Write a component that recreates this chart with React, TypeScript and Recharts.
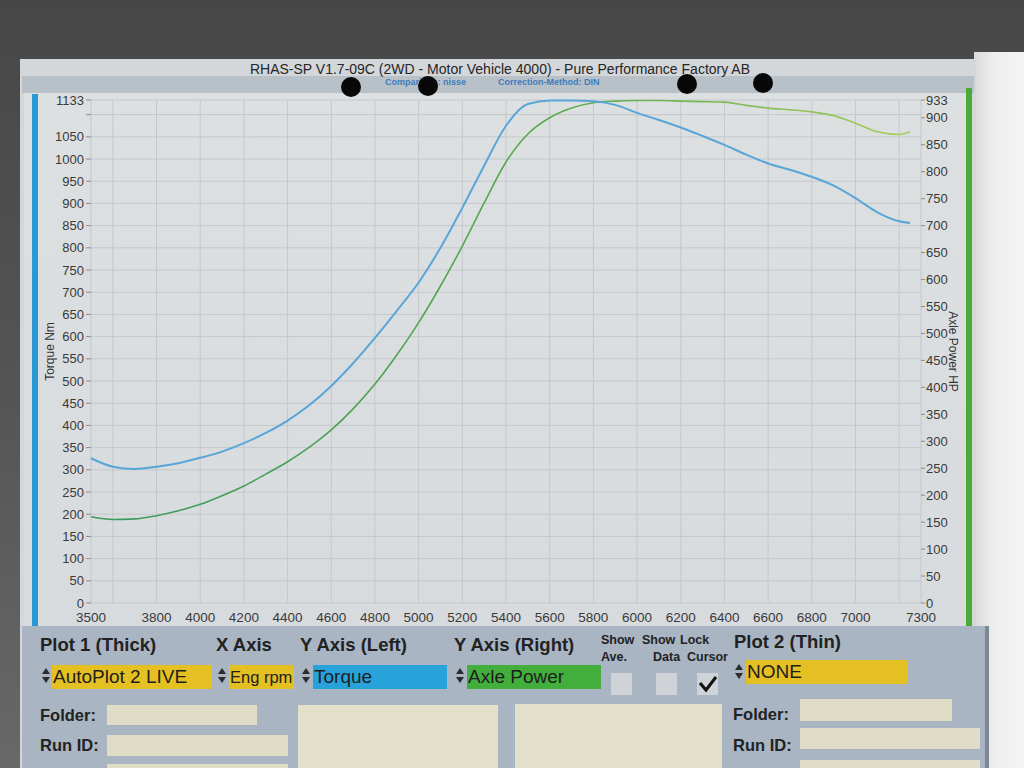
import React from 'react';
import { LineChart, Line, XAxis, YAxis, CartesianGrid } from 'recharts';

// ---- data ----
const rpm = [3500, 3600, 3700, 3800, 3900, 4000, 4100, 4200, 4300, 4400, 4500, 4600, 4700, 4800, 4900, 5000, 5100, 5200, 5300, 5400, 5500, 5600, 5700, 5800, 5900, 6000, 6100, 6200, 6300, 6400, 6500, 6600, 6700, 6800, 6900, 7000, 7100, 7200, 7250];
const torqueNm = [326, 307, 302, 307, 315, 327, 341, 360, 383, 411, 446, 489, 540, 597, 658, 722, 800, 890, 985, 1075, 1124, 1132, 1132, 1130, 1122, 1104, 1088, 1071, 1052, 1032, 1010, 990, 976, 960, 940, 912, 880, 860, 856];
const axlePowerHp = [160, 155, 156, 162, 171, 183, 199, 217, 239, 262, 289, 321, 360, 406, 460, 520, 588, 662, 742, 818, 870, 900, 918, 928, 931, 932, 932, 931, 930, 929, 923, 918, 915, 911, 904, 890, 874, 869, 874];

const xTicks = [3500, 3600, 3800, 4000, 4200, 4400, 4600, 4800, 5000, 5200, 5400, 5600, 5800, 6000, 6200, 6400, 6600, 6800, 7000, 7200, 7300];
const xHiddenLabels = [3600, 7200];
const leftTicks = [0, 50, 100, 150, 200, 250, 300, 350, 400, 450, 500, 550, 600, 650, 700, 750, 800, 850, 900, 950, 1000, 1050, 1100, 1133];
const leftHiddenLabels = [1100];
const rightTicks = [0, 50, 100, 150, 200, 250, 300, 350, 400, 450, 500, 550, 600, 650, 700, 750, 800, 850, 900, 933];

const titleText = 'RHAS-SP V1.7-09C  (2WD - Motor Vehicle 4000) - Pure Performance Factory AB';
const comparisonText = 'Comparison: nisse';
const correctionText = 'Correction-Method: DIN';
const leftAxisTitle = 'Torque Nm';
const rightAxisTitle = 'Axle Power HP';

const data = rpm.map((r, i) => ({ rpm: r, torque: torqueNm[i], power: axlePowerHp[i] }));

const FONT = '"Liberation Sans", Arial, Helvetica, sans-serif';

function T({ x, y, size, bold, color, lh, children }: { x: number; y: number; size: number; bold?: boolean; color?: string; lh?: number; children: React.ReactNode }) {
  return (
    <div style={{ position: 'absolute', left: x, top: y, fontSize: size, lineHeight: `${lh || size + 2}px`, fontWeight: bold ? 700 : 400, color: color || '#222', whiteSpace: 'nowrap' }}>
      {children}
    </div>
  );
}

function Spinner({ x, y }: { x: number; y: number }) {
  return (
    <div style={{ position: 'absolute', left: x, top: y, width: 9, height: 18 }}>
      <div style={{ position: 'absolute', left: 0, top: 1, width: 0, height: 0, borderLeft: '4.5px solid transparent', borderRight: '4.5px solid transparent', borderBottom: '6px solid #2c2c2c' }} />
      <div style={{ position: 'absolute', left: 0, top: 10, width: 0, height: 0, borderLeft: '4.5px solid transparent', borderRight: '4.5px solid transparent', borderTop: '6px solid #2c2c2c' }} />
    </div>
  );
}

function Box({ x, y, w, h, bg, text, size }: { x: number; y: number; w: number; h: number; bg: string; text?: string; size?: number }) {
  return (
    <div style={{ position: 'absolute', left: x, top: y, width: w, height: h, background: bg, fontSize: size || 19, lineHeight: `${h}px`, color: '#1e1e1e', paddingLeft: 1, boxSizing: 'border-box', whiteSpace: 'nowrap' }}>
      {text}
    </div>
  );
}

function Dot({ x, y }: { x: number; y: number }) {
  return <div style={{ position: 'absolute', left: x - 10, top: y - 10, width: 20, height: 20, borderRadius: '50%', background: '#080808' }} />;
}

export default function App() {
  return (
    <div style={{ position: 'fixed', left: 0, top: 0, width: 1024, height: 768, overflow: 'hidden', fontFamily: FONT, background: 'linear-gradient(180deg,#474747 0%,#545454 50%,#686868 100%)' }}>
      {/* right neighbouring sheet */}
      <div style={{ position: 'absolute', left: 974, top: 52, width: 50, height: 716, background: 'linear-gradient(90deg,#d9dadb 0%,#eeeeee 40%,#f4f4f4 100%)' }} />
      {/* paper */}
      <div style={{ position: 'absolute', left: 20, top: 59, width: 956, height: 709, background: '#d3d7da' }} />
      {/* title bar */}
      <div style={{ position: 'absolute', left: 22, top: 61, width: 952, height: 15, background: '#d3d7da' }} />
      <div style={{ position: 'absolute', left: 22, top: 76, width: 952, height: 17, background: '#b9c1c8' }} />
      <div style={{ position: 'absolute', left: 150, top: 62, width: 700, textAlign: 'center', fontSize: 14, lineHeight: '14px', color: '#262626' }}>{titleText}</div>
      <T x={385} y={77} size={9} lh={10} bold color="#3d7cbf">{comparisonText}</T>
      <T x={498} y={77} size={9} lh={10} bold color="#3d7cbf">{correctionText}</T>

      {/* chart background */}
      <div style={{ position: 'absolute', left: 24, top: 93, width: 944, height: 533, background: 'linear-gradient(180deg,#dde0e1 0%,#d8dbde 100%)' }} />

      <div style={{ position: 'absolute', left: 20, top: 88 }}>
        <LineChart width={946} height={540} data={data} margin={{ top: 12, right: 0, bottom: 0, left: 0 }}>
          <defs>
            <linearGradient id="greenStroke" x1="0" y1="0" x2="1" y2="0">
              <stop offset="0%" stopColor="#3c9a5c" />
              <stop offset="55%" stopColor="#5aa94f" />
              <stop offset="100%" stopColor="#a5cd5c" />
            </linearGradient>
          </defs>
          <CartesianGrid yAxisId="left" stroke="#c4c8cc" strokeWidth={1} />
          <XAxis
            xAxisId={0}
            type="number"
            dataKey="rpm"
            domain={[3500, 7300]}
            ticks={xTicks}
            interval={0}
            height={25}
            axisLine={false}
            tickLine={false}
            tickMargin={3}
            tickFormatter={(v: number) => (xHiddenLabels.includes(v) ? '' : String(v))}
            tick={{ fontSize: 13.5, fill: '#3a3a3a', fontFamily: FONT }}
          />
          <YAxis
            yAxisId="left"
            orientation="left"
            domain={[0, 1133]}
            ticks={leftTicks}
            interval={0}
            width={71}
            axisLine={false}
            tickSize={5}
            tickMargin={2}
            tickLine={{ stroke: '#8a8d90' }}
            tickFormatter={(v: number) => (leftHiddenLabels.includes(v) ? '' : String(v))}
            tick={{ fontSize: 13, fill: '#3a3a3a', fontFamily: FONT }}
            label={{ value: leftAxisTitle, angle: -90, position: 'insideLeft', offset: 30, style: { textAnchor: 'middle', fontSize: 12, fill: '#333', fontFamily: FONT } }}
          />
          <YAxis
            yAxisId="right"
            orientation="right"
            domain={[0, 933]}
            ticks={rightTicks}
            interval={0}
            width={45}
            axisLine={false}
            tickSize={4}
            tickMargin={1}
            tickLine={{ stroke: '#8a8d90' }}
            tick={{ fontSize: 13, fill: '#3a3a3a', fontFamily: FONT }}
            label={{ value: rightAxisTitle, angle: 90, position: 'insideRight', offset: 13, style: { textAnchor: 'middle', fontSize: 12, fill: '#333', fontFamily: FONT } }}
          />
          <Line yAxisId="right" type="monotone" dataKey="power" stroke="url(#greenStroke)" strokeWidth={1.6} dot={false} isAnimationActive={false} />
          <Line yAxisId="left" type="monotone" dataKey="torque" stroke="#58a6d8" strokeWidth={2} dot={false} isAnimationActive={false} />
        </LineChart>
      </div>

      {/* side colour bars */}
      <div style={{ position: 'absolute', left: 32, top: 94, width: 6, height: 532, background: '#2a98d2' }} />
      <div style={{ position: 'absolute', left: 966, top: 88, width: 6, height: 538, background: '#4aaa38' }} />

      {/* pins */}
      <Dot x={351} y={87} />
      <Dot x={428} y={86} />
      <Dot x={687} y={84} />
      <Dot x={763} y={83} />

      {/* control panel */}
      <div style={{ position: 'absolute', left: 22, top: 626, width: 966, height: 142, background: '#a9b5c3' }} />
      <div style={{ position: 'absolute', left: 985, top: 626, width: 4, height: 142, background: '#7d8896' }} />

      <T x={40} y={635} size={18.5} bold>Plot 1 (Thick)</T>
      <T x={216} y={635} size={18.5} bold>X Axis</T>
      <T x={300} y={635} size={18.5} bold>Y Axis (Left)</T>
      <T x={454} y={635} size={18.5} bold>Y Axis (Right)</T>
      <T x={601} y={633} size={12.5} bold>Show</T>
      <T x={601} y={650} size={12.5} bold>Ave.</T>
      <T x={642} y={633} size={12.5} bold>Show</T>
      <T x={653} y={650} size={12.5} bold>Data</T>
      <T x={680} y={633} size={12.5} bold>Lock</T>
      <T x={687} y={650} size={12.5} bold>Cursor</T>
      <T x={734} y={632} size={18.5} bold>Plot 2 (Thin)</T>

      <Spinner x={42} y={667} />
      <Box x={52} y={665} w={160} h={24} bg="#e5c023" text="AutoPlot 2 LIVE" />
      <Spinner x={218} y={667} />
      <Box x={229} y={665} w={65} h={24} bg="#e5c023" text="Eng rpm" size={16.5} />
      <Spinner x={302} y={667} />
      <Box x={313} y={665} w={134} h={24} bg="#28a2da" text="Torque" />
      <Spinner x={456} y={667} />
      <Box x={467} y={665} w={134} h={24} bg="#42ae3c" text="Axle Power" />

      <div style={{ position: 'absolute', left: 611, top: 673, width: 21, height: 22, background: '#cfd3d7' }} />
      <div style={{ position: 'absolute', left: 656, top: 673, width: 21, height: 22, background: '#cfd3d7' }} />
      <div style={{ position: 'absolute', left: 697, top: 673, width: 21, height: 22, background: '#cfd3d7' }}>
        <svg width={21} height={22} style={{ position: 'absolute', left: 0, top: 0 }}>
          <polyline points="3,10 9,17 19,4" fill="none" stroke="#111" strokeWidth={3} />
        </svg>
      </div>

      <Spinner x={735} y={663} />
      <Box x={746} y={660} w={162} h={24} bg="#e5c023" text="NONE" />

      <T x={40} y={706} size={16.5} bold>Folder:</T>
      <div style={{ position: 'absolute', left: 107, top: 705, width: 150, height: 20, background: '#dfddc8' }} />
      <T x={40} y={736} size={16.5} bold>Run ID:</T>
      <div style={{ position: 'absolute', left: 107, top: 735, width: 181, height: 21, background: '#dfddc8' }} />
      <div style={{ position: 'absolute', left: 107, top: 764, width: 181, height: 10, background: '#dfddc8' }} />
      <div style={{ position: 'absolute', left: 298, top: 705, width: 200, height: 70, background: '#e2e0cb' }} />
      <div style={{ position: 'absolute', left: 515, top: 704, width: 207, height: 70, background: '#e2e0cb' }} />

      <T x={733} y={705} size={16.5} bold>Folder:</T>
      <div style={{ position: 'absolute', left: 800, top: 699, width: 152, height: 22, background: '#dfddc8' }} />
      <T x={733} y={736} size={16.5} bold>Run ID:</T>
      <div style={{ position: 'absolute', left: 800, top: 728, width: 180, height: 21, background: '#dfddc8' }} />
      <div style={{ position: 'absolute', left: 800, top: 760, width: 180, height: 12, background: '#dfddc8' }} />
    </div>
  );
}
